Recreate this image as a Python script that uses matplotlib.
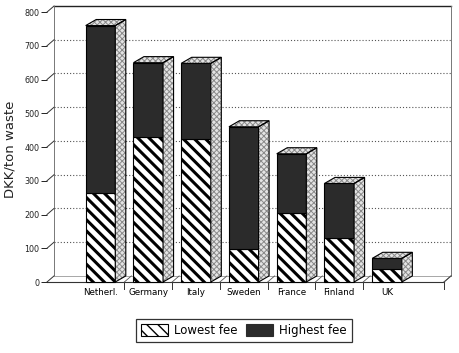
import matplotlib
matplotlib.use('Agg')
import matplotlib.pyplot as plt
from matplotlib.patches import Polygon, Patch

countries = ['Netherl.', 'Germany', 'Italy', 'Sweden', 'France', 'Finland', 'UK']
lowest_fee = [265, 430, 425, 98, 205, 130, 38]
highest_fee = [760, 650, 648, 460, 380, 292, 70]
y_ticks = [0, 100, 200, 300, 400, 500, 600, 700, 800]

plt.rcParams['font.family'] = ['DejaVu Sans']

fig = plt.figure(figsize=(4.6, 3.53), dpi=100)
ax = fig.add_axes([47 / 460, (353 - 282) / 353, (452 - 47) / 460, 277 / 353])
XL, XR = -1.12, 7.36
ax.set_xlim(XL, XR)
ax.set_ylim(0, 821)
for s in ax.spines.values():
    s.set_visible(False)

WDX, WDY = 0.147, 18      # wall depth
BDX, BDY = 0.22, 18       # bar depth
HW = 0.31                 # half bar width
XWR = 7.34                # right back wall edge
XFR = XWR - WDX           # right front floor edge

def mk(poly, **kw):
    hl = kw.pop('hatch_lw', None)
    if hl is not None:
        with plt.rc_context({'hatch.linewidth': hl}):
            p = Polygon(poly, closed=True, clip_on=False, **kw)
            if hasattr(p, 'set_hatch_linewidth'):
                p.set_hatch_linewidth(hl)
    else:
        p = Polygon(poly, closed=True, clip_on=False, **kw)
    ax.add_patch(p)
    return p

# back wall and grid
for v in y_ticks[1:-1]:
    ax.plot([XL + WDX, XWR], [v + WDY, v + WDY], ls=(0, (1, 1.8)), lw=0.8,
            color='#555555', zorder=1, clip_on=False)
ax.plot([XL + WDX, XWR], [800 + WDY, 800 + WDY], color='#222222', lw=1.0, zorder=1, clip_on=False)
ax.plot([XL + WDX, XL + WDX], [WDY, 800 + WDY], color='#777777', lw=0.7, zorder=1, clip_on=False)
ax.plot([XWR, XWR], [WDY, 800 + WDY], color='#777777', lw=0.7, zorder=1, clip_on=False)
# tick slants
for v in y_ticks:
    ax.plot([XL, XL + WDX], [v, v + WDY], color='#333333', lw=0.7, zorder=1, clip_on=False)
# floor
ax.plot([XL + WDX, XWR], [WDY, WDY], color='#999999', lw=0.6, zorder=1, clip_on=False)
ax.plot([XL, XFR], [0, 0], color='#333333', lw=0.8, zorder=1, clip_on=False)
ax.plot([XFR, XWR], [0, WDY], color='#333333', lw=0.7, zorder=1, clip_on=False)
for b in [i + 0.5 for i in range(6)] + [XFR]:
    ax.plot([b, b], [0, -20], color='#333333', lw=0.7, zorder=1, clip_on=False)
    ax.plot([b, b + WDX], [0, WDY], color='#555555', lw=0.6, zorder=1, clip_on=False)

# bars
for i, (lo, hi) in enumerate(zip(lowest_fee, highest_fee)):
    x0, x1 = i - HW, i + HW
    mk([(x0, 0), (x1, 0), (x1, lo), (x0, lo)], facecolor='white', edgecolor='black',
       hatch='\\\\\\', lw=0.8, zorder=3, hatch_lw=2.2)
    mk([(x0, lo), (x1, lo), (x1, hi), (x0, hi)], facecolor='#2b2b2b', edgecolor='black',
       lw=0.8, zorder=3)
    side = [(x1, 0), (x1 + BDX, BDY), (x1 + BDX, hi + BDY), (x1, hi)]
    top = [(x0, hi), (x0 + BDX, hi + BDY), (x1 + BDX, hi + BDY), (x1, hi)]
    for poly in (side, top):
        mk(poly, facecolor='#e4e4e4', edgecolor='#8a8a8a', hatch='xxxxxx', lw=0,
           zorder=3, hatch_lw=0.7)
        mk(poly, facecolor='none', edgecolor='black', lw=0.8, zorder=4)

# axes ticks
ax.set_yticks(y_ticks)
ax.set_yticklabels([str(v) for v in y_ticks], fontsize=5.8)
ax.tick_params(axis='y', length=4, width=0.7, pad=1.5, colors='#222222')
ax.set_xticks(range(len(countries)))
ax.set_xticklabels(countries, fontsize=6.3)
ax.tick_params(axis='x', length=0, pad=4)

fig.text(10 / 460, 1 - 149 / 353, 'DKK/ton waste', rotation=90, fontsize=9.5,
         ha='center', va='center', color='#222222')

with plt.rc_context({'hatch.linewidth': 2.0}):
    h1 = Patch(facecolor='white', edgecolor='black', hatch='\\\\\\', lw=0.8)
    if hasattr(h1, 'set_hatch_linewidth'):
        h1.set_hatch_linewidth(2.0)
handles = [h1, Patch(facecolor='#2b2b2b', edgecolor='#2b2b2b', lw=0.8)]
leg = fig.legend(handles, ['Lowest fee', 'Highest fee'], ncol=2, loc='center',
                 bbox_to_anchor=(244 / 460, 1 - 330.5 / 353), fontsize=8.5,
                 frameon=True, fancybox=False, edgecolor='black',
                 handlelength=2.3, handleheight=1.1, handletextpad=0.5,
                 columnspacing=0.7, borderpad=0.45)
leg.get_frame().set_linewidth(0.9)

fig.savefig('out.png', dpi=100)
